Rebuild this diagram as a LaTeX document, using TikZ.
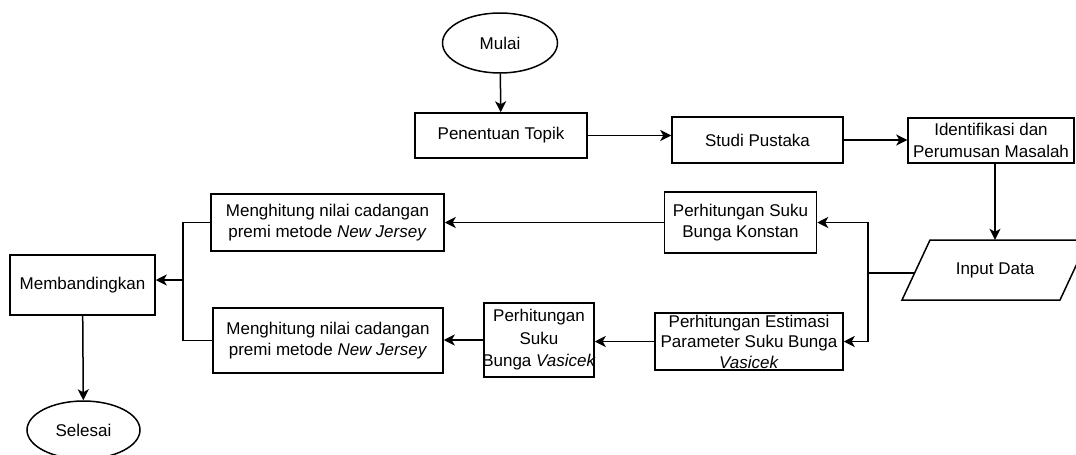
\documentclass[tikz,border=0pt]{standalone}
\usepackage{fontspec}
\setmainfont{Liberation Sans}
\usetikzlibrary{arrows.meta,shapes.geometric}
\begin{document}
\begin{tikzpicture}[x=1pt,y=-1pt,
  every node/.style={font=\fontsize{17}{21.5}\selectfont, align=center, inner sep=0pt},
  fbox/.style={draw, line width=1.5pt, rectangle},
  oval/.style={draw, line width=1.5pt, ellipse},
  arr/.style={line width=1.5pt, -{Stealth[length=11pt,width=11pt,inset=3pt]}},
  ln/.style={line width=1.5pt}]
\clip (0,0) rectangle (1076,455);
% nodes
\node[oval, minimum width=115, minimum height=60] (mulai) at (500,43) {Mulai};
\node[fbox, minimum width=172, minimum height=45] (topik) at (501,135.5) {Penentuan Topik};
\node[fbox, minimum width=171, minimum height=46] (studi) at (757.5,140) {Studi Pustaka};
\node[fbox, minimum width=166, minimum height=45] (ident) at (991,140.5) {Identifikasi dan\\Perumusan Masalah};
\draw[ln] (930,240) -- (1088,240) -- (1060,300) -- (902,300) -- cycle;
\node[minimum width=150, minimum height=60] (input) at (995,270) {Input Data};
\coordinate (inL) at (914.6,273);
\node[fbox, minimum width=152, minimum height=61] (konstan) at (740.5,222.5) {Perhitungan Suku\\Bunga Konstan};
\node[fbox, minimum width=233, minimum height=57] (meng1) at (327.5,222.5) {Menghitung nilai cadangan\\premi metode \textit{New Jersey}};
\node[fbox, minimum width=188, minimum height=57] (estim) at (749,341.5) {};
\node[font=\fontsize{17}{20.5}\selectfont] at (estim) {Perhitungan Estimasi\\Parameter Suku Bunga\\\textit{Vasicek}};
\node[fbox, minimum width=110, minimum height=74] (vas) at (539,340) {};
\node[font=\fontsize{17}{22.5}\selectfont] at (vas) {Perhitungan\\Suku\\Bunga \textit{Vasicek}};
\node[fbox, minimum width=230, minimum height=65] (meng2) at (328,340.5) {Menghitung nilai cadangan\\premi metode \textit{New Jersey}};
\node[fbox, minimum width=145, minimum height=60] (banding) at (82.5,285) {Membandingkan};
\node[oval, minimum width=113, minimum height=58] (selesai) at (83.5,430) {Selesai};
% connectors
\draw[arr] (mulai) -- (topik);
\draw[arr] (topik.east) -- (studi.west |- topik.east);
\draw[arr] (studi.east) -- (ident.west |- studi.east);
\draw[arr] (ident.south -| input) -- (input.north);
\coordinate (j) at (868,273);
\draw[ln] (inL) -- (j);
\draw[arr] (j) |- (konstan.east);
\draw[arr] (j) |- (estim.east);
\draw[arr] (konstan.west) -- (meng1.east);
\draw[arr] (estim.west) -- (vas.east |- estim.west);
\draw[arr] (vas.west) -- (meng2.east |- vas.west);
\coordinate (k) at (183,280);
\draw[ln] (meng1.west) -| (k) |- (meng2.west);
\draw[arr] (k) -- (banding.east |- k);
\draw[arr] (banding) -- (selesai);
\end{tikzpicture}
\end{document}
